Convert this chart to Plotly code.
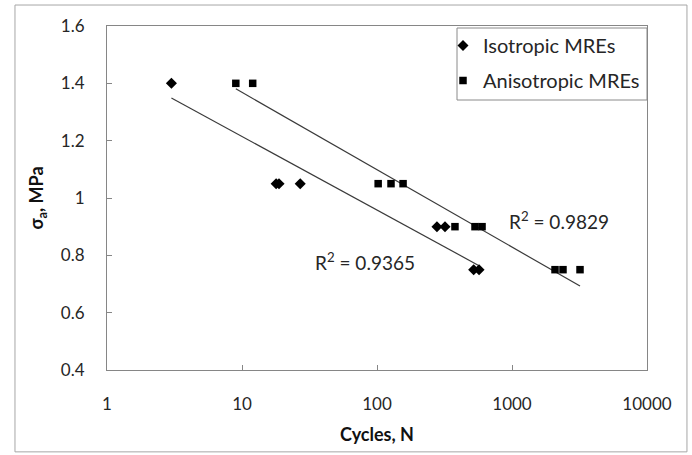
import numpy as np
import plotly.graph_objects as go

# Data
iso_N = [3, 17.9, 18.8, 27, 278, 319, 520, 570]
iso_s = [1.4, 1.05, 1.05, 1.05, 0.9, 0.9, 0.75, 0.75]
ani_N = [9, 12, 102, 127, 156, 378, 532, 600, 2083, 2386, 3190]
ani_s = [1.4, 1.4, 1.05, 1.05, 1.05, 0.9, 0.9, 0.9, 0.75, 0.75, 0.75]
# logarithmic trendlines shown on the chart: sigma = a*ln(N) + b
iso_fit = [-0.1115, 1.4715]
ani_fit = [-0.1172, 1.6384]
x_ticks = [1, 10, 100, 1000, 10000]
x_tick_labels = ["1", "10", "100", "1000", "10000"]
r2_labels = ["R<sup>2</sup> = 0.9365", "R<sup>2</sup> = 0.9829"]

FONT = "Lato, 'Open Sans', sans-serif"
LINE = "#3a3a3a"
TXT = "#262626"

fig = go.Figure()
for N, (a, b) in [(iso_N, iso_fit), (ani_N, ani_fit)]:
    xs = np.logspace(np.log10(min(N)), np.log10(max(N)), 60)
    fig.add_trace(go.Scatter(x=xs, y=a * np.log(xs) + b, mode="lines",
                             line=dict(color=LINE, width=1.2),
                             showlegend=False, hoverinfo="skip"))

fig.add_trace(go.Scatter(x=iso_N, y=iso_s, mode="markers", name="Isotropic MREs",
                         legendgroup="a",
                         marker=dict(symbol="diamond", size=8.5, color="black")))
fig.add_trace(go.Scatter(x=ani_N, y=ani_s, mode="markers", name="Anisotropic MREs",
                         legendgroup="b",
                         marker=dict(symbol="square", size=7.5, color="black")))

fig.add_annotation(x=np.log10(82), y=0.778, text=r2_labels[0], showarrow=False,
                   font=dict(family=FONT, size=19, color=TXT))
fig.add_annotation(x=np.log10(2230), y=0.921, text=r2_labels[1], showarrow=False,
                   font=dict(family=FONT, size=19, color=TXT))

# outer chart border
fig.add_shape(type="rect", xref="paper", yref="paper", x0=-0.1704, x1=1.074,
              y0=-0.238, y1=1.061, line=dict(color="#a6a6a6", width=1))
# legend frame
fig.add_shape(type="rect", xref="paper", yref="paper",
              x0=(457 - 107) / 540, x1=(647 - 107) / 540,
              y0=(370 - 100) / 344, y1=(370 - 28) / 344,
              line=dict(color="#8a8a8a", width=1), fillcolor="white", layer="below")

fig.update_layout(
    width=692, height=455,
    margin=dict(l=107, r=45, t=26, b=85),
    paper_bgcolor="white", plot_bgcolor="rgba(0,0,0,0)",
    font=dict(family=FONT, size=17, color=TXT),
    legend=dict(x=(443 - 107) / 540, y=(370 - 26) / 344, xanchor="left", yanchor="top",
                borderwidth=0, bgcolor="rgba(0,0,0,0)",
                font=dict(family=FONT, size=20, color=TXT),
                tracegroupgap=6, traceorder="grouped", itemwidth=30),
    showlegend=True,
)
fig.update_xaxes(type="log", range=[0, 4], tickvals=x_ticks, ticktext=x_tick_labels,
                 showline=True, linecolor="#868686", mirror=True, showgrid=False,
                 ticks="inside", ticklen=5, tickcolor="#868686", zeroline=False,
                 ticklabelstandoff=19,
                 title=dict(text="<b>Cycles, N</b>", standoff=14,
                            font=dict(family=FONT, size=18, color="#111")))
fig.update_yaxes(range=[0.4, 1.6], dtick=0.2, tick0=0.4,
                 showline=True, linecolor="#868686", mirror=True, showgrid=False,
                 ticks="inside", ticklen=5, tickcolor="#868686", zeroline=False,
                 ticklabelstandoff=18,
                 title=dict(text="<b>σ<sub>a</sub>, MPa</b>", standoff=12,
                            font=dict(family=FONT, size=18, color="#111")))

fig.write_html("out.html")
